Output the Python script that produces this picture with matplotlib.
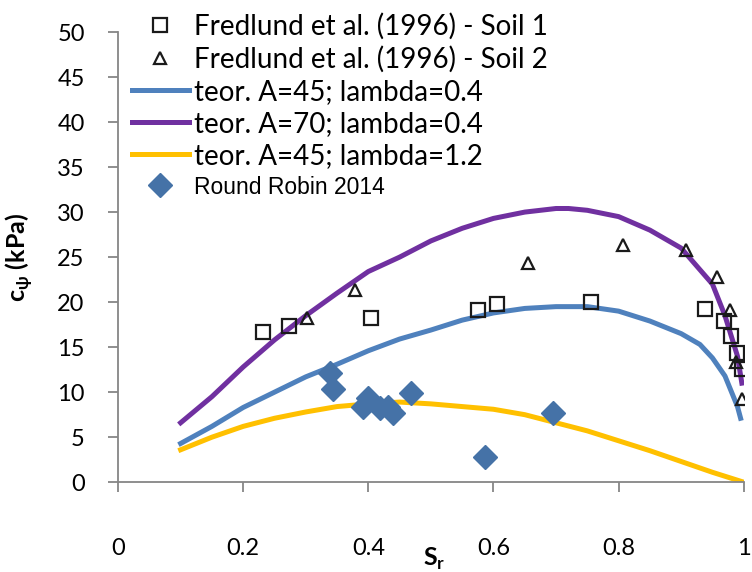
import matplotlib
matplotlib.use("Agg")
import matplotlib.pyplot as plt

# Fredlund et al. (1996) - Soil 1
soil1_sr = [0.232, 0.273, 0.404, 0.575, 0.605, 0.756, 0.938, 0.968, 0.979, 0.989, 0.998]
soil1_c = [16.7, 17.4, 18.2, 19.1, 19.8, 20.0, 19.2, 17.9, 16.2, 14.3, 12.6]

# Fredlund et al. (1996) - Soil 2
soil2_sr = [0.302, 0.379, 0.655, 0.807, 0.907, 0.957, 0.978, 0.987, 0.998]
soil2_c = [18.2, 21.3, 24.3, 26.4, 25.8, 22.8, 19.1, 13.3, 9.2]

# Round Robin 2014
rr_sr = [0.339, 0.343, 0.399, 0.391, 0.419, 0.431, 0.439, 0.468, 0.586, 0.695]
rr_c = [12.1, 10.3, 9.3, 8.3, 8.2, 8.3, 7.7, 9.9, 2.8, 7.7]

# theoretical curves
blue_sr = [0.1, 0.15, 0.2, 0.25, 0.3, 0.35, 0.4, 0.45, 0.5, 0.55, 0.6, 0.65, 0.7,
           0.75, 0.8, 0.85, 0.9, 0.93, 0.95, 0.97, 0.99, 0.995]
blue_c = [4.3, 6.2, 8.3, 10.0, 11.7, 13.1, 14.6, 15.9, 16.9, 18.0, 18.8, 19.3, 19.5,
          19.5, 19.0, 17.9, 16.5, 15.3, 13.8, 11.8, 8.4, 7.1]

purple_sr = [0.1, 0.15, 0.2, 0.25, 0.3, 0.35, 0.4, 0.45, 0.5, 0.55, 0.6, 0.65, 0.7,
             0.72, 0.75, 0.8, 0.85, 0.9, 0.95, 0.97, 0.99, 0.997]
purple_c = [6.6, 9.5, 12.8, 15.8, 18.5, 21.0, 23.4, 25.0, 26.8, 28.2, 29.3, 30.0, 30.4,
            30.4, 30.2, 29.5, 28.0, 26.0, 22.0, 18.5, 14.0, 11.0]

yellow_sr = [0.1, 0.15, 0.2, 0.25, 0.3, 0.35, 0.4, 0.45, 0.5, 0.55, 0.6, 0.65, 0.7,
             0.75, 0.8, 0.85, 0.9, 0.95, 1.0]
yellow_c = [3.6, 5.0, 6.2, 7.1, 7.8, 8.4, 8.7, 8.9, 8.7, 8.4, 8.1, 7.5, 6.6,
            5.7, 4.6, 3.5, 2.3, 1.1, 0.0]

xticks = [0, 0.2, 0.4, 0.6, 0.8, 1]
xticklabels = ["0", "0.2", "0.4", "0.6", "0.8", "1"]
yticks = list(range(0, 55, 5))

plt.rcParams['font.family'] = ['Lato', 'DejaVu Sans']

fig = plt.figure(figsize=(7.52, 5.72), dpi=100)
ax = fig.add_axes([0.157, 0.157, 0.832, 0.787])

ax.plot(soil1_sr, soil1_c, ls='none', marker='s', ms=9.5, mfc='none', mec='#1a1a1a', mew=1.6,
        label="Fredlund et al. (1996) - Soil 1", zorder=4)
ax.plot(soil2_sr, soil2_c, ls='none', marker='^', ms=9, mfc='none', mec='#1a1a1a', mew=1.6,
        label="Fredlund et al. (1996) - Soil 2", zorder=4)
ax.plot(blue_sr, blue_c, color='#4F81BD', lw=3.6, label="teor. A=45; lambda=0.4", zorder=2)
ax.plot(purple_sr, purple_c, color='#7030A0', lw=3.6, label="teor. A=70; lambda=0.4", zorder=2)
ax.plot(yellow_sr, yellow_c, color='#FFC000', lw=3.6, label="teor. A=45; lambda=1.2", zorder=2)
ax.plot(rr_sr, rr_c, ls='none', marker='D', ms=12, color='#4572A7', mec='#4572A7',
        label="Round Robin 2014", zorder=5)

ax.set_xlim(0, 1)
ax.set_ylim(0, 50)
ax.set_xticks(xticks)
ax.set_xticklabels(xticklabels)
ax.set_yticks(yticks)

for side in ['top', 'right']:
    ax.spines[side].set_visible(False)
for side in ['left', 'bottom']:
    ax.spines[side].set_color('#868686')
    ax.spines[side].set_linewidth(1.3)
ax.tick_params(axis='both', direction='out', length=7, width=1.3, color='#868686',
               labelsize=17, labelcolor='black')
ax.tick_params(axis='x', pad=33)
ax.tick_params(axis='y', pad=17)

# axis labels placed in figure coordinates
ax.set_xlabel("S$_\\mathregular{r}$", fontsize=18, fontweight='bold', va='center')
ax.xaxis.set_label_coords(434 / 752, 1 - 559 / 572, transform=fig.transFigure)
ax.set_ylabel("c$_\\mathregular{\\psi}$ (kPa)", fontsize=18, fontweight='bold')
ax.yaxis.set_label_coords(-0.132, 0.5)

leg = ax.legend(loc='upper left', bbox_to_anchor=(0.1755, 0.978), bbox_transform=fig.transFigure,
                frameon=False, fontsize=20, handlelength=2.05, handletextpad=0.2,
                labelspacing=0.22, borderaxespad=0, borderpad=0)
rr_text = leg.get_texts()[5]
rr_text.set_fontfamily(['Liberation Sans', 'DejaVu Sans'])
rr_text.set_fontsize(16.5)

fig.savefig("out.png", dpi=100)
